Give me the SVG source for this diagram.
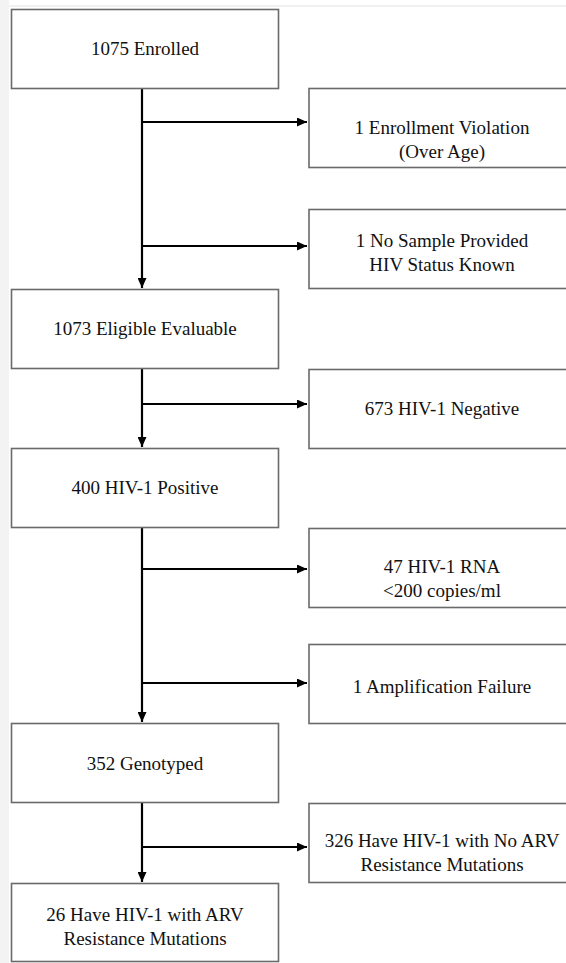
<svg xmlns="http://www.w3.org/2000/svg" width="566" height="963" viewBox="0 0 566 963">
<style>
.box{fill:#fff;stroke:#6a6a6a;stroke-width:1.6}
.t{font-size:19px;fill:#111;text-anchor:middle}
.c{stroke:#000;stroke-width:2.2;fill:none}
</style>
<defs>
<marker id="ah" viewBox="0 0 10 9" refX="10" refY="4.5" markerWidth="10" markerHeight="9" markerUnits="userSpaceOnUse" orient="auto">
<path d="M0,0 L10,4.5 L0,9 Z" fill="#000"/>
</marker>
</defs>
<rect x="0" y="0" width="566" height="963" fill="#fff"/>
<rect x="0" y="0" width="9" height="963" fill="#f3f3f3"/>
<line x1="9" y1="6" x2="566" y2="6" stroke="#ececec" stroke-width="1.5"/>
<g id="connectors">
<line class="c" x1="142" y1="88" x2="142" y2="288" marker-end="url(#ah)"/>
<line class="c" x1="142" y1="122" x2="307" y2="122" marker-end="url(#ah)"/>
<line class="c" x1="142" y1="246" x2="307" y2="246" marker-end="url(#ah)"/>
<line class="c" x1="142" y1="369" x2="142" y2="447" marker-end="url(#ah)"/>
<line class="c" x1="142" y1="404" x2="307" y2="404" marker-end="url(#ah)"/>
<line class="c" x1="142" y1="528" x2="142" y2="722" marker-end="url(#ah)"/>
<line class="c" x1="142" y1="569" x2="307" y2="569" marker-end="url(#ah)"/>
<line class="c" x1="142" y1="683" x2="307" y2="683" marker-end="url(#ah)"/>
<line class="c" x1="142" y1="803" x2="142" y2="882" marker-end="url(#ah)"/>
<line class="c" x1="142" y1="847" x2="307" y2="847" marker-end="url(#ah)"/>
</g>
<g font-family="Liberation Serif, Times New Roman, serif">
<g id="enrolled"><rect class="box" x="11.5" y="9.5" width="267" height="79"/><text class="t" x="145" y="55">1075 Enrolled</text></g>
<g id="violation"><rect class="box" x="309" y="88.5" width="270" height="79"/><text class="t" x="442" y="134">1 Enrollment Violation</text><text class="t" x="442" y="158">(Over Age)</text></g>
<g id="nosample"><rect class="box" x="309" y="209.5" width="270" height="79"/><text class="t" x="442" y="247">1 No Sample Provided</text><text class="t" x="442" y="271">HIV Status Known</text></g>
<g id="eligible"><rect class="box" x="11.5" y="289.5" width="267" height="79"/><text class="t" x="145" y="335">1073 Eligible Evaluable</text></g>
<g id="negative"><rect class="box" x="309" y="369.5" width="270" height="79"/><text class="t" x="442" y="415">673 HIV-1 Negative</text></g>
<g id="positive"><rect class="box" x="11.5" y="448.5" width="267" height="79"/><text class="t" x="145" y="494">400 HIV-1 Positive</text></g>
<g id="rna"><rect class="box" x="309" y="528.5" width="270" height="79"/><text class="t" x="442" y="573">47 HIV-1 RNA</text><text class="t" x="442" y="597">&lt;200 copies/ml</text></g>
<g id="ampfail"><rect class="box" x="309" y="644.5" width="270" height="79"/><text class="t" x="442" y="693">1 Amplification Failure</text></g>
<g id="genotyped"><rect class="box" x="11.5" y="723.5" width="267" height="79"/><text class="t" x="145" y="770">352 Genotyped</text></g>
<g id="noarv"><rect class="box" x="309" y="803.5" width="270" height="79"/><text class="t" x="442" y="847">326 Have HIV-1 with No ARV</text><text class="t" x="442" y="871">Resistance Mutations</text></g>
<g id="arv"><rect class="box" x="11.5" y="883.5" width="267" height="78"/><text class="t" x="145" y="921">26 Have HIV-1 with ARV</text><text class="t" x="145" y="945">Resistance Mutations</text></g>
</g>
</svg>
